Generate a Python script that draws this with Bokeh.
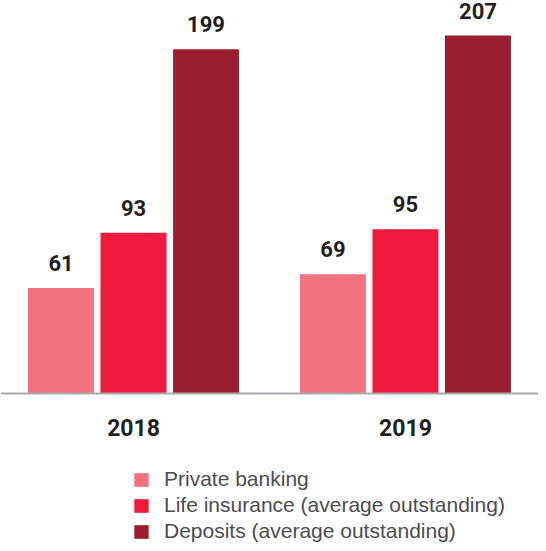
from bokeh.plotting import figure
from bokeh.models import FactorRange, Span, Legend, LegendItem
from bokeh.core.properties import value
from bokeh.embed import file_html
from bokeh.resources import INLINE

years = ["2018", "2019"]
series = ["Private banking", "Life insurance (average outstanding)", "Deposits (average outstanding)"]
private_banking = [61, 69]
life_insurance = [93, 95]
deposits = [199, 207]
colors = ["#F3727F", "#EE1B3C", "#9B1E2F"]

values_by_series = [private_banking, life_insurance, deposits]
factors = [(y, s) for y in years for s in series]

p = figure(
    width=538, height=543,
    x_range=FactorRange(*factors, group_padding=0.75, factor_padding=0.0,
                        range_padding=0.335, range_padding_units="absolute"),
    y_range=(-86.73, 227.24),
    x_axis_type=None, y_axis_type=None,
    output_backend="svg", toolbar_location=None,
    min_border_left=0, min_border_right=0, min_border_top=0, min_border_bottom=0,
)
p.outline_line_color = None
p.xgrid.visible = False
p.ygrid.visible = False
p.background_fill_color = "white"

items = []
for s, vals, c in zip(series, values_by_series, colors):
    xs = [(y, s) for y in years]
    r = p.vbar(x=xs, top=vals, bottom=0, width=0.91, fill_color=c, line_color=None)
    items.append(LegendItem(label=s, renderers=[r]))
    p.text(x=xs, y=vals, text=[str(v) for v in vals], text_align="center",
           text_baseline="alphabetic", y_offset=-25,
           text_font=value("Roboto"), text_font_style="bold",
           text_font_size="22px", text_color="#231F20")

p.add_layout(Span(location=0, dimension="width", line_color="#A7A9AC", line_width=2))

p.text(x=years, y=[0, 0], text=years, text_align="center", text_baseline="alphabetic",
       y_offset=34, text_font=value("Roboto"), text_font_style="bold",
       text_font_size="23px", text_color="#231F20")

legend = Legend(items=items, location=(132, 0), orientation="vertical",
                glyph_width=18, glyph_height=17, label_standoff=14, spacing=2,
                padding=0, margin=0, border_line_color=None, background_fill_alpha=0,
                label_text_font="Liberation Sans", label_text_font_size="21px",
                label_text_color="#4D4D4F")
p.add_layout(legend)

open("out.html", "w").write(file_html(p, INLINE))
